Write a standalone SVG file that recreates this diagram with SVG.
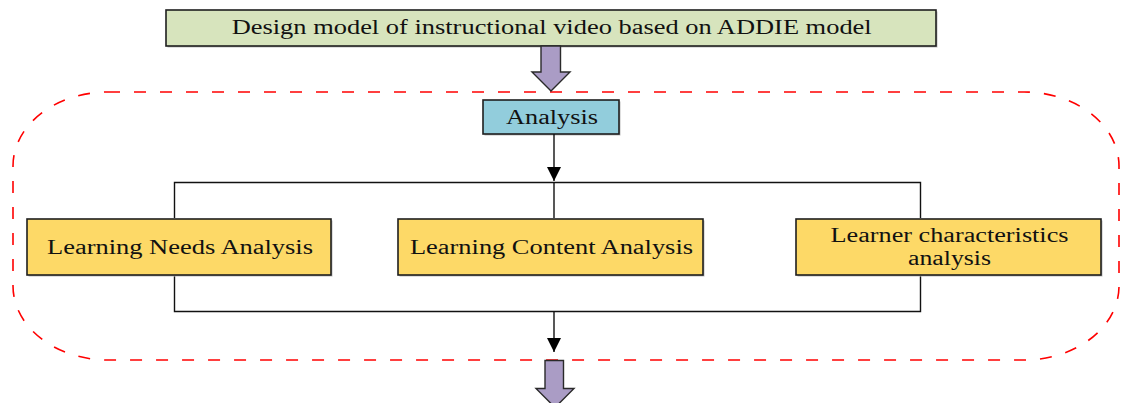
<svg xmlns="http://www.w3.org/2000/svg" width="1121" height="403" viewBox="0 0 1121 403">
  <style>
    .box { stroke: #1f1f1f; stroke-width: 1.6; }
    .shadow { fill: #bdbdbd; }
    .title { fill: #d7e4bd; }
    .phase { fill: #92cddc; }
    .task { fill: #fdd967; }
    .bigarrow { fill: #aa9cc5; stroke: #2a2a2a; stroke-width: 1.4; stroke-linejoin: miter; }
    .lbl { font-family: "Liberation Serif", "Times New Roman", serif; font-size: 20px; fill: #111; text-anchor: middle; }
    .wire { fill: none; stroke: #111; stroke-width: 1.4; }
    .frame { fill: none; stroke: #ff0000; stroke-width: 1.6; stroke-dasharray: 12 14; }
  </style>
  <defs>
    <marker id="tri" viewBox="0 0 14 14" refX="14" refY="7" markerWidth="14" markerHeight="14" markerUnits="userSpaceOnUse" orient="auto">
      <path d="M0,0 L14,7 L0,14 Z" fill="#000"/>
    </marker>
  </defs>

  <rect width="1121" height="403" fill="#ffffff"/>

  <!-- dashed boundary of the analysis phase -->
  <rect class="frame" x="13" y="92" width="1106" height="268" rx="95" ry="74"/>

  <!-- title -->
  <g id="title">
    <rect class="shadow" x="167.5" y="11.5" width="770" height="36"/>
    <rect class="box title" x="166" y="10" width="770" height="36"/>
    <text class="lbl" x="551.7" y="34" textLength="640" lengthAdjust="spacingAndGlyphs">Design model of instructional video based on ADDIE model</text>
  </g>

  <!-- block arrows -->
  <g id="arrow-top">
    <path class="bigarrow" d="M541,46 L560.5,46 L560.5,72 L570,72 L551,91 L532,72 L541,72 Z"/>
  </g>
  <g id="arrow-bottom">
    <path class="bigarrow" d="M545,360.5 L563.5,360.5 L563.5,388.5 L574,388.5 L555,407.5 L536,388.5 L545,388.5 Z"/>
  </g>

  <!-- analysis phase -->
  <g id="analysis">
    <rect class="shadow" x="484.5" y="101.5" width="136" height="34"/>
    <rect class="box phase" x="483" y="100" width="136" height="34"/>
    <text class="lbl" x="552" y="123.5" textLength="92" lengthAdjust="spacingAndGlyphs">Analysis</text>
  </g>

  <!-- connectors -->
  <g id="connectors">
    <line class="wire" x1="554" y1="134" x2="554" y2="181" marker-end="url(#tri)"/>
    <path class="wire" d="M174.5,218 V182.5 H920.5 V218"/>
    <line class="wire" x1="554" y1="182.5" x2="554" y2="218"/>
    <path class="wire" d="M174.5,275 V311.5 H920.5 V275"/>
    <line class="wire" x1="554" y1="311.5" x2="554" y2="352" marker-end="url(#tri)"/>
  </g>

  <!-- analysis tasks -->
  <g id="needs">
    <rect class="shadow" x="28.5" y="220.5" width="304" height="56"/>
    <rect class="box task" x="27" y="219" width="304" height="56"/>
    <text class="lbl" x="180" y="253.5" textLength="266" lengthAdjust="spacingAndGlyphs">Learning Needs Analysis</text>
  </g>
  <g id="content">
    <rect class="shadow" x="399.5" y="220.5" width="305" height="56"/>
    <rect class="box task" x="398" y="219" width="305" height="56"/>
    <text class="lbl" x="551.5" y="253.5" textLength="283" lengthAdjust="spacingAndGlyphs">Learning Content Analysis</text>
  </g>
  <g id="learner">
    <rect class="shadow" x="797.5" y="220.5" width="305" height="56"/>
    <rect class="box task" x="796" y="219" width="305" height="56"/>
    <text class="lbl" x="949.5" y="242" textLength="238" lengthAdjust="spacingAndGlyphs">Learner characteristics</text>
    <text class="lbl" x="949.5" y="265" textLength="83" lengthAdjust="spacingAndGlyphs">analysis</text>
  </g>
</svg>
